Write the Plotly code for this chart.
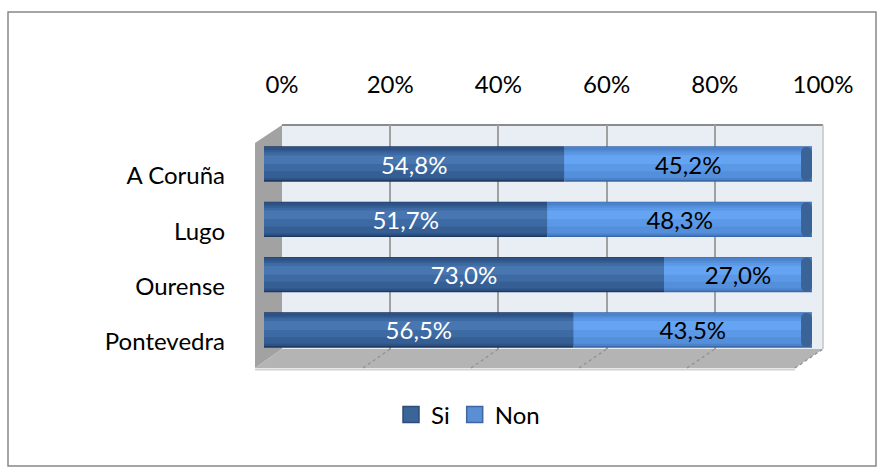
import plotly.graph_objects as go

# ---------------- data ----------------
categories = ["A Coruña", "Lugo", "Ourense", "Pontevedra"]
si_values = [0.548, 0.517, 0.730, 0.565]
non_values = [0.452, 0.483, 0.270, 0.435]
series_names = ["Si", "Non"]
tick_values = [0, 0.2, 0.4, 0.6, 0.8, 1.0]
tick_labels = ["0%", "20%", "40%", "60%", "80%", "100%"]

# ---------------- geometry helpers ----------------
W, H = 884, 472
FONT = "Lato"


def px(x):
    return x / W


def py(y):
    return 1 - y / H


# depth box (pixels)
FRONT_L, FRONT_R, FRONT_B, FRONT_T = 255, 795, 368, 143
BACK_L, BACK_R, BACK_B, BACK_T = 282, 823, 349, 125

non_base = si_values

fig = go.Figure()

# dummy trace so the back-wall axis (ticks + gridlines) is drawn
fig.add_trace(go.Scatter(x=[0, 1], y=[0, 1], mode="markers",
                         marker=dict(opacity=0), xaxis="x", yaxis="y",
                         showlegend=False, hoverinfo="skip"))

bar_w = 0.64
# cylinder shading layers: (colour, width, shift) from outer to inner
series_layers = [
    [("#1f3a60", 0.64, 0.0), ("#2d5285", 0.60, -0.01), ("#355e95", 0.50, 0.0),
     ("#3e6aa3", 0.34, -0.04), ("#4876b0", 0.16, -0.08)],
    [("#3a6aa8", 0.64, 0.0), ("#4b82cb", 0.60, -0.01), ("#548fdc", 0.50, 0.0),
     ("#5b98e6", 0.34, -0.04), ("#64a4f2", 0.16, -0.08)],
]
legend_colors = [("#3b6499", "#2c4d7a"), ("#5b8fd4", "#3d66a3")]


def add_series(name, values, base, layers, lcol):
    for col, w, s in layers:
        fig.add_trace(go.Bar(
            y=categories, x=values, base=base, orientation="h",
            width=w, offset=-w / 2 + s, name=name,
            marker=dict(color=col, line=dict(width=0)),
            showlegend=False, legendgroup=name, hoverinfo="skip",
            xaxis="x2", yaxis="y2"))
    # legend entry for the series
    fig.add_trace(go.Scatter(
        x=[None], y=[None], mode="markers", name=name, legendgroup=name,
        marker=dict(symbol="square", size=16, color=lcol[0],
                    line=dict(color=lcol[1], width=1.5)),
        xaxis="x2", yaxis="y2", hoverinfo="skip"))


add_series(series_names[0], si_values, [0] * len(si_values),
           series_layers[0], legend_colors[0])
add_series(series_names[1], non_values, non_base,
           series_layers[1], legend_colors[1])

# end caps of cylinders (right end of the "Non" bars)
cap = 0.02
fig.add_trace(go.Bar(
    y=categories, x=[cap] * len(categories),
    base=[s + n - cap for s, n in zip(si_values, non_values)],
    orientation="h", width=bar_w * 0.96, offset=-bar_w * 0.48,
    marker=dict(color="#3a6497", line=dict(width=0), cornerradius="45%"),
    showlegend=False, hoverinfo="skip", xaxis="x2", yaxis="y2"))

# value labels
for values, base, tcol in [(si_values, [0] * len(si_values), "white"),
                           (non_values, non_base, "black")]:
    fig.add_trace(go.Bar(
        y=categories, x=values, base=base, orientation="h",
        width=bar_w, offset=-bar_w / 2,
        marker=dict(color="rgba(0,0,0,0)", line=dict(width=0)),
        texttemplate="%{x:.1%}", textposition="inside",
        insidetextanchor="middle", constraintext="none",
        textfont=dict(family=FONT, size=24, color=tcol),
        showlegend=False, hoverinfo="skip", xaxis="x2", yaxis="y2"))

# ---------------- decorative 3D box ----------------
shapes = []
shapes.append(dict(type="rect", xref="paper", yref="paper",
                   x0=px(8), x1=px(876), y0=py(466), y1=py(12),
                   line=dict(color="#888888", width=1.5),
                   fillcolor="rgba(0,0,0,0)", layer="below"))
shapes.append(dict(type="rect", xref="x domain", yref="y domain",
                   x0=0, x1=1, y0=0, y1=1, fillcolor="#e9edf4",
                   line=dict(width=0), layer="below"))
shapes.append(dict(type="path", xref="paper", yref="paper",
                   path=(f"M {px(FRONT_L)},{py(FRONT_T)} L {px(BACK_L)},{py(BACK_T)} "
                         f"L {px(BACK_L)},{py(BACK_B)} L {px(FRONT_L)},{py(FRONT_B)} Z"),
                   fillcolor="#a2a2a2", line=dict(width=0), layer="below"))
shapes.append(dict(type="path", xref="paper", yref="paper",
                   path=(f"M {px(FRONT_L)},{py(FRONT_B)} L {px(FRONT_R)},{py(FRONT_B)} "
                         f"L {px(BACK_R)},{py(BACK_B)} L {px(BACK_L)},{py(BACK_B)} Z"),
                   fillcolor="#b4b4b4", line=dict(width=0), layer="below"))
shapes.append(dict(type="line", xref="paper", yref="paper",
                   x0=px(FRONT_L), x1=px(FRONT_R), y0=py(FRONT_B + 1.5), y1=py(FRONT_B + 1.5),
                   line=dict(color="#d2d2d2", width=2), layer="below"))
for t in tick_values[1:]:
    fx = FRONT_L + t * (FRONT_R - FRONT_L)
    bx = BACK_L + t * (BACK_R - BACK_L)
    shapes.append(dict(type="line", xref="paper", yref="paper",
                       x0=px(fx), y0=py(FRONT_B), x1=px(bx), y1=py(BACK_B),
                       line=dict(color="#8f8f8f", width=1.2, dash="dot"),
                       layer="below"))
shapes.append(dict(type="line", xref="paper", yref="paper",
                   x0=px(BACK_L), x1=px(BACK_R), y0=py(BACK_T), y1=py(BACK_T),
                   line=dict(color="#8c8c8c", width=2), layer="below"))
shapes.append(dict(type="line", xref="paper", yref="paper",
                   x0=px(BACK_R), x1=px(BACK_R), y0=py(BACK_T), y1=py(BACK_B),
                   line=dict(color="#c4c4c4", width=1.5), layer="below"))

# ---------------- layout ----------------
fig.update_layout(
    width=W, height=H, autosize=False,
    margin=dict(l=0, r=0, t=0, b=0, pad=0, autoexpand=False),
    paper_bgcolor="white", plot_bgcolor="rgba(0,0,0,0)",
    barmode="overlay", separators=",.",
    font=dict(family=FONT, size=24, color="black"),
    shapes=shapes,
    showlegend=True,
    legend=dict(orientation="h", x=px(468), xanchor="center",
                y=py(415), yanchor="middle",
                font=dict(family=FONT, size=24, color="black"),
                bgcolor="rgba(0,0,0,0)", traceorder="normal",
                itemsizing="trace", itemwidth=30),
    xaxis=dict(domain=[px(BACK_L), px(BACK_R)], range=[0, 1], side="top",
               anchor="y", tickvals=tick_values, ticktext=tick_labels,
               showgrid=True, gridcolor="#a0a0a0", gridwidth=1.5,
               zeroline=False, showline=False, ticks="",
               ticklabelstandoff=26, fixedrange=True,
               tickfont=dict(family=FONT, size=24, color="black")),
    yaxis=dict(domain=[py(BACK_B), py(BACK_T)], range=[0, 1], anchor="x",
               visible=False, fixedrange=True),
    xaxis2=dict(domain=[px(264), px(812)], range=[0, 1], anchor="y2",
                visible=False, fixedrange=True),
    yaxis2=dict(domain=[py(357.6), py(136.4)], range=[3.5, -0.5],
                anchor="x2", showgrid=False, showline=False, zeroline=False,
                ticks="", ticklabelstandoff=38, ticklabelshift=-12,
                fixedrange=True,
                tickfont=dict(family=FONT, size=24, color="black")),
)

fig.write_html("out.html",
               config={"responsive": False, "displayModeBar": False},
               post_script="document.body.style.margin='0';"
                           "document.body.style.overflow='hidden';")
